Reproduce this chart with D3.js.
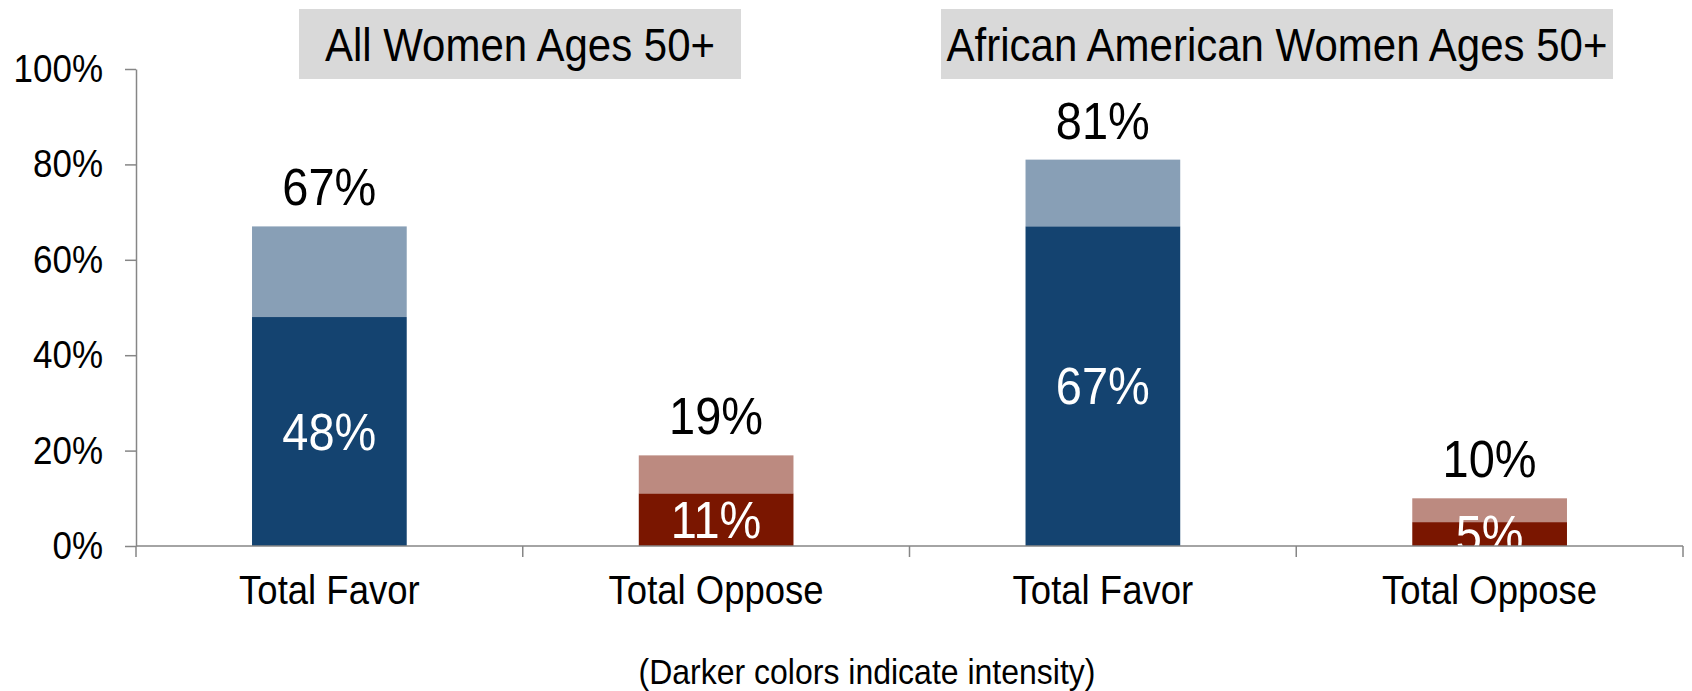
<!DOCTYPE html>
<html>
<head>
<meta charset="utf-8">
<script src="https://cdn.jsdelivr.net/npm/d3@7"></script>
<style>
  html, body { margin: 0; padding: 0; background: #ffffff; }
  svg { display: block; font-family: "Liberation Sans", Arial, Helvetica, sans-serif; }
</style>
</head>
<body>
<svg id="chart" width="1692" height="691"></svg>
<script>
// ---- data ----
const groups = ["All Women Ages 50+", "African American Women Ages 50+"];
const categories = ["Total Favor", "Total Oppose", "Total Favor", "Total Oppose"];
const categoryKind = ["favor", "oppose", "favor", "oppose"];
const strongValues = [48, 11, 67, 5];   // darker (intense) part
const totalValues = [67, 19, 81, 10];   // total height
const yTicks = [0, 20, 40, 60, 80, 100];
const footnote = "(Darker colors indicate intensity)";

// ---- styles ----
const colors = {
  favor: { strong: "#144370", light: "#889fb6" },
  oppose: { strong: "#7a1600", light: "#bc8a80" }
};
const axisColor = "#868686";
const SY = 1.12; // vertical stretch of glyphs as in the reference

const svg = d3.select("#chart");

// place text at (x, y) baseline with a vertical stretch
function place(sel, fx, fy) {
  sel.attr("x", 0).attr("y", 0)
     .attr("transform", (d, i) => `translate(${fx(d, i)},${fy(d, i)}) scale(1,${SY})`);
  return sel;
}

const x = d3.scaleBand().domain(d3.range(categories.length)).range([136, 1683]).padding(0);
const y = d3.scaleLinear().domain([0, 100]).range([546, 69]);
const barW = x.bandwidth() * 0.4;

// group title boxes
const boxes = [
  { x0: 299, x1: 741 },
  { x0: 941, x1: 1613 }
];
const titleG = svg.append("g");
groups.forEach((g, i) => {
  titleG.append("rect")
    .attr("x", boxes[i].x0).attr("y", 9)
    .attr("width", boxes[i].x1 - boxes[i].x0).attr("height", 70)
    .attr("fill", "#d9d9d9");
  titleG.append("text")
    .call(place, () => (boxes[i].x0 + boxes[i].x1) / 2, () => 61)
    .attr("text-anchor", "middle")
    .attr("font-size", 42).attr("fill", "#000")
    .text(g);
});

// clip for bar labels
svg.append("clipPath").attr("id", "plotclip")
  .append("rect").attr("x", 136).attr("y", 0).attr("width", 1547).attr("height", 546);

// bars
const data = categories.map((c, i) => ({ i, c, kind: categoryKind[i], strong: strongValues[i], total: totalValues[i] }));
const barG = svg.append("g");
const bars = barG.selectAll("g.bar").data(data).join("g").attr("class", "bar");

bars.append("rect")
  .attr("x", d => x(d.i) + (x.bandwidth() - barW) / 2)
  .attr("width", barW)
  .attr("y", d => y(d.total))
  .attr("height", d => y(d.strong) - y(d.total))
  .attr("fill", d => colors[d.kind].light);

bars.append("rect")
  .attr("x", d => x(d.i) + (x.bandwidth() - barW) / 2)
  .attr("width", barW)
  .attr("y", d => y(d.strong))
  .attr("height", d => y(0) - y(d.strong))
  .attr("fill", d => colors[d.kind].strong);

// inner labels (clipped at the axis)
bars.append("g").attr("clip-path", "url(#plotclip)")
  .append("text")
  .call(place, d => x(d.i) + x.bandwidth() / 2, d => (y(d.strong) + y(0)) / 2 + 18)
  .attr("text-anchor", "middle")
  .attr("font-size", 47).attr("fill", "#ffffff")
  .text(d => d.strong + "%");

// total labels
bars.append("text")
  .call(place, d => x(d.i) + x.bandwidth() / 2, d => y(d.total) - 21)
  .attr("text-anchor", "middle")
  .attr("font-size", 47).attr("fill", "#000")
  .text(d => d.total + "%");

// y axis
const yAxis = svg.append("g").attr("transform", "translate(136,0)")
  .call(d3.axisLeft(y).tickValues(yTicks).tickFormat(d => d + "%").tickSize(11).tickSizeOuter(0).tickPadding(22));
yAxis.select(".domain").attr("stroke", axisColor).attr("stroke-width", 1.5);
yAxis.selectAll(".tick line").attr("stroke", axisColor).attr("stroke-width", 1.5);
yAxis.selectAll(".tick text").attr("font-size", 35).attr("fill", "#000")
  .attr("font-family", "'Liberation Sans', Arial, sans-serif")
  .attr("transform", `scale(1,${SY})`);

// x axis (ticks at band boundaries)
const xAxisG = svg.append("g");
xAxisG.append("line")
  .attr("x1", x.range()[0]).attr("x2", x.range()[1])
  .attr("y1", y(0)).attr("y2", y(0))
  .attr("stroke", axisColor).attr("stroke-width", 1.5);
const boundaries = d3.range(categories.length).map(i => x(i)).concat([x.range()[1]]);
xAxisG.selectAll("line.xt").data(boundaries).join("line").attr("class", "xt")
  .attr("x1", d => d).attr("x2", d => d)
  .attr("y1", y(0)).attr("y2", y(0) + 11)
  .attr("stroke", axisColor).attr("stroke-width", 1.5);
xAxisG.selectAll("text").data(data).join("text")
  .call(place, d => x(d.i) + x.bandwidth() / 2, () => 604)
  .attr("text-anchor", "middle")
  .attr("font-size", 36.5).attr("fill", "#000")
  .text(d => d.c);

// footnote
svg.append("text")
  .call(place, () => 867, () => 684)
  .attr("text-anchor", "middle")
  .attr("font-size", 32).attr("fill", "#000")
  .text(footnote);
</script>
</body>
</html>
